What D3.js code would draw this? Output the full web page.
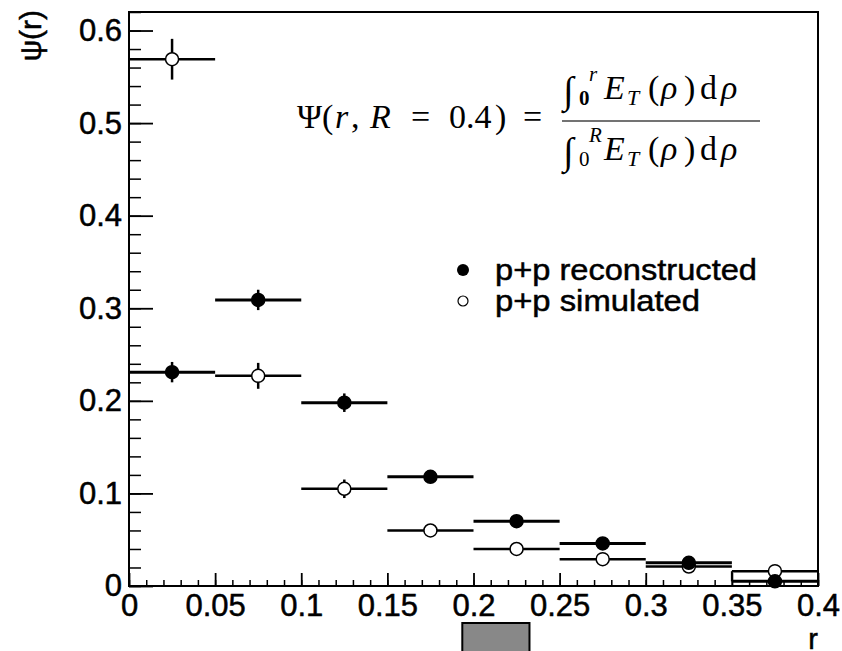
<!DOCTYPE html>
<html>
<head>
<meta charset="utf-8">
<script src="https://cdn.jsdelivr.net/npm/d3@7"></script>
<style>
  body { margin: 0; background: #fff; }
  svg text { font-family: "Liberation Sans", Arial, Helvetica, sans-serif; fill: #000; }
  .lbl { stroke: #000; stroke-width: 0.5px; }
  .math text { font-family: "Liberation Serif", "Times New Roman", serif; }
</style>
</head>
<body>
<div id="chart"></div>
<script>
// bin centres in r (bin width 0.05)
var rBins = [0.025, 0.075, 0.125, 0.175, 0.225, 0.275, 0.325, 0.375];
var binWidth = 0.05;

// p+p reconstructed (filled)
var psiReco = [0.231, 0.309, 0.198, 0.118, 0.070, 0.046, 0.025, 0.005];
var errReco = [0.011, 0.011, 0.010, 0.005, 0.004, 0.003, 0.003, 0.002];

// p+p simulated (open)
var psiSim = [0.569, 0.227, 0.105, 0.060, 0.040, 0.029, 0.021, 0.016];
var errSim = [0.022, 0.014, 0.010, 0.005, 0.004, 0.003, 0.003, 0.003];

var xTicks = [0, 0.05, 0.1, 0.15, 0.2, 0.25, 0.3, 0.35, 0.4];
var yTicks = [0, 0.1, 0.2, 0.3, 0.4, 0.5, 0.6];
var legendLabels = ["p+p reconstructed", "p+p simulated"];

(function() {
var width = 842, height = 651;
var padL = 129, padR = 818, padT = 12, padB = 586;

var svg = d3.select("#chart").append("svg")
    .attr("width", width).attr("height", height);

var x = d3.scaleLinear().domain([0, 0.4]).range([padL, padR]);
var y = d3.scaleLinear().domain([0, 0.62]).range([padB, padT]);

// minor ticks
var xMinor = d3.range(0, 41).map(function(i) { return i / 100; });
var yMinor = d3.range(0, 32).map(function(i) { return i / 50; });

svg.append("g")
    .attr("transform", "translate(0," + padB + ")")
    .call(d3.axisBottom(x).tickValues(xMinor).tickSize(-6).tickFormat(""))
    .call(function(g) { g.select(".domain").remove(); g.selectAll("line").attr("stroke-width", 1.5); });

svg.append("g")
    .attr("transform", "translate(" + padL + ",0)")
    .call(d3.axisLeft(y).tickValues(yMinor).tickSize(-12).tickFormat(""))
    .call(function(g) { g.select(".domain").remove(); g.selectAll("line").attr("stroke-width", 1.5); });

// major ticks + labels
var fmt = d3.format("~g");
svg.append("g")
    .attr("transform", "translate(0," + padB + ")")
    .call(d3.axisBottom(x).tickValues(xTicks).tickSize(-13).tickPadding(8).tickFormat(fmt))
    .call(function(g) {
        g.select(".domain").remove();
        g.selectAll("line").attr("stroke-width", 1.8);
        g.selectAll("text").attr("class", "lbl").attr("font-size", 31)
            .attr("font-family", "Liberation Sans, Arial, sans-serif");
    });

svg.append("g")
    .attr("transform", "translate(" + padL + ",0)")
    .call(d3.axisLeft(y).tickValues(yTicks).tickSize(-24).tickPadding(7).tickFormat(fmt))
    .call(function(g) {
        g.select(".domain").remove();
        g.selectAll("line").attr("stroke-width", 1.8);
        g.selectAll("text").attr("class", "lbl").attr("font-size", 31)
            .attr("font-family", "Liberation Sans, Arial, sans-serif");
    });

// frame
svg.append("rect")
    .attr("x", padL).attr("y", padT)
    .attr("width", padR - padL).attr("height", padB - padT)
    .attr("fill", "none").attr("stroke", "#000").attr("stroke-width", 2);

// axis titles
svg.append("text")
    .attr("class", "lbl")
    .attr("transform", "translate(41,10) rotate(-90)")
    .attr("text-anchor", "end")
    .attr("font-size", 30)
    .text("ψ(r)");

svg.append("text")
    .attr("class", "lbl")
    .attr("x", 818).attr("y", 649)
    .attr("text-anchor", "end")
    .attr("font-size", 29)
    .text("r");

// stray grey box under the axis
svg.append("rect")
    .attr("x", x(0.1935)).attr("y", 623)
    .attr("width", x(0.2325) - x(0.1935)).attr("height", 40)
    .attr("fill", "#888").attr("stroke", "#000").attr("stroke-width", 2);

// data
function series(vals, errs) {
    return rBins.map(function(r, i) { return { r: r, v: vals[i], e: errs[i] }; });
}
var reco = series(psiReco, errReco);
var sim = series(psiSim, errSim);

function drawSeries(data, filled) {
    var g = svg.append("g");
    g.selectAll("line.h").data(data).enter().append("line")
        .attr("x1", function(d) { return x(d.r - binWidth / 2); })
        .attr("x2", function(d) { return x(d.r + binWidth / 2); })
        .attr("y1", function(d) { return y(d.v); })
        .attr("y2", function(d) { return y(d.v); })
        .attr("stroke", "#000").attr("stroke-width", filled ? 3 : 2.5);
    g.selectAll("line.v").data(data).enter().append("line")
        .attr("x1", function(d) { return x(d.r); })
        .attr("x2", function(d) { return x(d.r); })
        .attr("y1", function(d) { return y(d.v - d.e); })
        .attr("y2", function(d) { return y(d.v + d.e); })
        .attr("stroke", "#000").attr("stroke-width", 2.5);
    g.selectAll("circle").data(data).enter().append("circle")
        .attr("cx", function(d) { return x(d.r); })
        .attr("cy", function(d) { return y(d.v); })
        .attr("r", 6.5)
        .attr("fill", filled ? "#000" : "#fff")
        .attr("stroke", "#000").attr("stroke-width", 1.5);
}

// last bin edge joining the two steps
var last = rBins.length - 1;
svg.append("line")
    .attr("x1", x(rBins[last] - binWidth / 2)).attr("x2", x(rBins[last] - binWidth / 2))
    .attr("y1", y(psiSim[last])).attr("y2", y(psiReco[last]))
    .attr("stroke", "#000").attr("stroke-width", 2);

drawSeries(sim, false);
drawSeries(reco, true);

// legend
var leg = svg.append("g").attr("transform", "translate(463,270)");
leg.append("circle").attr("cx", 0).attr("cy", 0).attr("r", 6).attr("fill", "#000");
leg.append("circle").attr("cx", 0).attr("cy", 31).attr("r", 5)
    .attr("fill", "#fff").attr("stroke", "#000").attr("stroke-width", 1.2);
leg.selectAll("text").data(legendLabels).enter().append("text")
    .attr("class", "lbl")
    .attr("x", 32).attr("y", function(d, i) { return 10 + i * 31; })
    .attr("font-size", 30)
    .attr("textLength", function(d, i) { return i ? 205 : 262; })
    .attr("lengthAdjust", "spacingAndGlyphs")
    .text(function(d) { return d; });

// formula  Psi(r, R=0.4) = int_0^r E_T(rho) drho / int_0^R E_T(rho) drho
var m = svg.append("g").attr("class", "math");
function piece(px, py, txt, size, italic, bold) {
    m.append("text").attr("x", px).attr("y", py).attr("font-size", size)
        .attr("font-style", italic ? "italic" : "normal")
        .attr("font-weight", bold ? "bold" : "normal")
        .text(txt);
}
var base = 128;
piece(297, base, "Ψ", 34);
piece(322, base, "(", 34);
piece(335, base, "r", 34, true);
piece(351, base, ",", 34);
piece(370, base, "R", 34, true);
piece(411, base, "=", 34);
piece(449, base, "0.4", 34);
piece(495, base, ")", 34);
piece(523, base, "=", 34);

m.append("line").attr("x1", 562).attr("x2", 760).attr("y1", 121).attr("y2", 121)
    .attr("stroke", "#444").attr("stroke-width", 1.6);

function fracPart(yb, upper, boldZero) {
    piece(563, yb + 4, "∫", 38, true);
    piece(579, yb + 6, "0", 21, false, boldZero);
    piece(589, yb - 18, upper, 21, true);
    piece(604, yb, "E", 34, true);
    piece(627, yb + 6, "T", 22, true);
    piece(648, yb, "(", 34);
    piece(661, yb, "ρ", 34, true);
    piece(684, yb, ")", 34);
    piece(700, yb, "d", 34);
    piece(721, yb, "ρ", 34, true);
}
fracPart(99, "r", true);
fracPart(160, "R", false);
})();
</script>
</body>
</html>
